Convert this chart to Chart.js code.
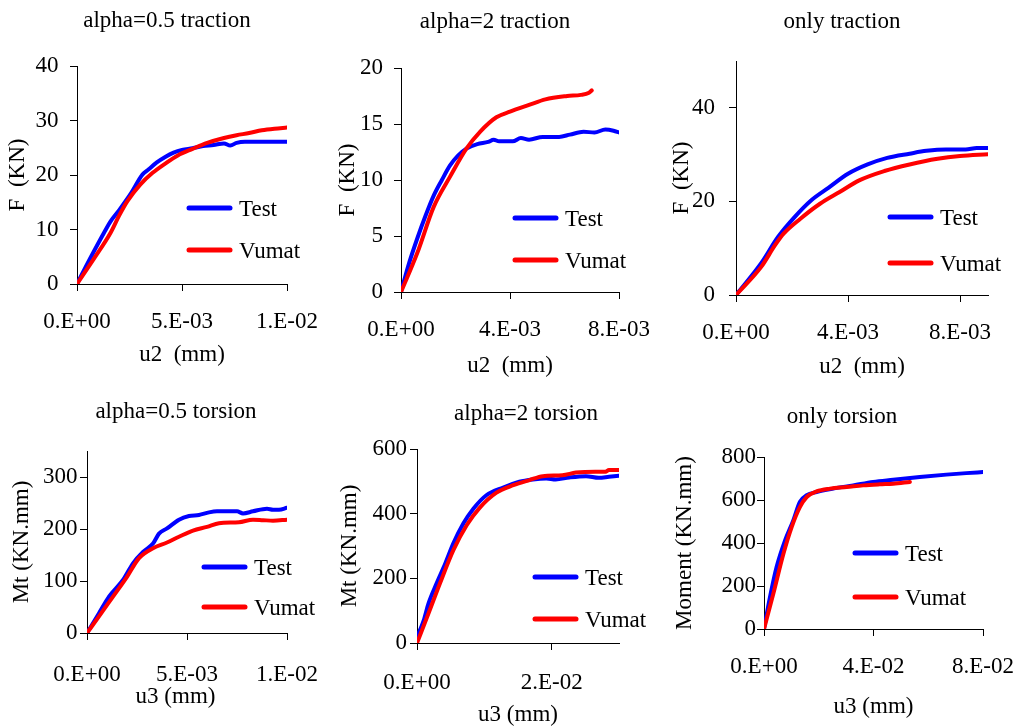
<!DOCTYPE html>
<html>
<head>
<meta charset="utf-8">
<script src="https://cdn.jsdelivr.net/npm/chart.js@4.4.1/dist/chart.umd.min.js"></script>
<style>
  html, body { margin: 0; padding: 0; background: #ffffff; }
  #page { position: relative; width: 1019px; height: 727px; overflow: hidden; background: #ffffff; }
  #page canvas { position: absolute; }
</style>
</head>
<body>
<div id="page"></div>
<script>
// ---- data: displacement / load curves (Test vs Vumat) ----

// alpha = 0.5, traction
const trac05TestU  = [0, 0.0006, 0.0013, 0.0016, 0.002, 0.0026, 0.0031, 0.0034, 0.0038, 0.0042, 0.0046, 0.005, 0.0055, 0.006, 0.0065, 0.007, 0.0073, 0.0076, 0.008, 0.009, 0.01];
const trac05TestF  = [0, 4.5, 9.5, 11.5, 13.5, 16.8, 20, 21, 22.3, 23.3, 24.1, 24.6, 24.9, 25.3, 25.5, 25.8, 25.4, 25.9, 26.1, 26.1, 26.1];
const trac05VumatU = [0, 0.0008, 0.0016, 0.002, 0.0024, 0.003, 0.0036, 0.0042, 0.0048, 0.0055, 0.0062, 0.007, 0.0076, 0.0082, 0.0088, 0.0094, 0.01];
const trac05VumatF = [0, 4.6, 9.4, 12.5, 15.2, 18.2, 20.4, 22.1, 23.6, 24.8, 25.9, 26.8, 27.3, 27.7, 28.2, 28.5, 28.7];

// alpha = 2, traction
const trac2TestU  = [0, 0.0003, 0.0006, 0.0009, 0.0012, 0.0015, 0.0018, 0.0021, 0.0024, 0.0028, 0.0032, 0.0034, 0.0036, 0.0041, 0.0044, 0.0047, 0.0052, 0.0058, 0.0062, 0.0067, 0.0071, 0.0075, 0.0078, 0.008];
const trac2TestF  = [0, 2.6, 4.8, 6.8, 8.6, 10.0, 11.3, 12.2, 12.8, 13.2, 13.4, 13.6, 13.45, 13.45, 13.75, 13.6, 13.85, 13.85, 14.05, 14.3, 14.25, 14.5, 14.4, 14.25];
const trac2VumatU = [0, 0.0006, 0.0012, 0.0018, 0.0024, 0.0029, 0.0035, 0.004, 0.0047, 0.0053, 0.0061, 0.0066, 0.0069, 0.007];
const trac2VumatF = [0, 3.5, 7.6, 10.3, 12.8, 14.3, 15.6, 16.1, 16.7, 17.2, 17.5, 17.6, 17.8, 18.0];

// pure traction
const tracTestU  = [0, 0.0009, 0.0015, 0.0021, 0.0027, 0.0033, 0.004, 0.0047, 0.0054, 0.0062, 0.0068, 0.0075, 0.0082, 0.0086, 0.009];
const tracTestF  = [0, 6.8, 12.4, 16.7, 20.3, 22.9, 25.9, 27.9, 29.3, 30.2, 30.8, 31.1, 31.1, 31.4, 31.4];
const tracVumatU = [0, 0.0009, 0.0014, 0.0017, 0.0023, 0.003, 0.0037, 0.0044, 0.0053, 0.0062, 0.0072, 0.008, 0.009];
const tracVumatF = [0, 6.0, 10.7, 13.1, 16.3, 19.5, 22.0, 24.5, 26.5, 27.9, 29.1, 29.7, 30.1];

// alpha = 0.5, torsion
const tors05TestU  = [0, 0.0006, 0.0011, 0.0018, 0.0023, 0.0028, 0.0033, 0.0036, 0.004, 0.0046, 0.0051, 0.0056, 0.0061, 0.0065, 0.0075, 0.0078, 0.0083, 0.009, 0.0093, 0.0096, 0.01];
const tors05TestM  = [0, 38, 70, 102, 134, 156, 172, 191, 201, 218, 225, 227, 232, 234, 234, 230, 234, 239, 237, 237, 241];
const tors05VumatU = [0, 0.0006, 0.0013, 0.002, 0.0026, 0.0033, 0.004, 0.0046, 0.0053, 0.006, 0.0066, 0.0076, 0.0083, 0.0088, 0.0093, 0.01];
const tors05VumatM = [0, 32, 70, 108, 144, 163, 174, 185, 197, 204, 211, 213, 218, 217, 216, 218];

// alpha = 2, torsion
const tors2TestU  = [0, 0.001, 0.0017, 0.0029, 0.0042, 0.0054, 0.0069, 0.0084, 0.0103, 0.0128, 0.0152, 0.0172, 0.0192, 0.0206, 0.0226, 0.0251, 0.027, 0.0285, 0.03];
const tors2TestM  = [18, 70, 122, 184, 246, 308, 370, 416, 457, 481, 499, 506, 509, 506, 512, 516, 511, 514, 517];
const tors2VumatU = [0, 0.0017, 0.0034, 0.0054, 0.0074, 0.0093, 0.0118, 0.0143, 0.0167, 0.0187, 0.0216, 0.0236, 0.0265, 0.028, 0.0285, 0.03];
const tors2VumatM = [0, 91, 184, 287, 365, 418, 465, 488, 504, 516, 519, 527, 530, 530, 535, 535];

// pure torsion
const torsTestU  = [0, 0.0022, 0.0046, 0.0077, 0.0107, 0.0131, 0.0156, 0.0192, 0.0253, 0.0326, 0.0399, 0.0472, 0.0569, 0.0666, 0.0739, 0.08];
const torsTestM  = [0, 149, 288, 412, 505, 591, 622, 637, 653, 668, 684, 694, 707, 718, 725, 730];
const torsVumatU = [0, 0.0034, 0.0071, 0.0101, 0.0131, 0.0156, 0.0192, 0.0241, 0.0302, 0.0362, 0.0423, 0.0472, 0.0533];
const torsVumatM = [0, 164, 350, 474, 567, 614, 640, 653, 660, 668, 673, 676, 684];

// ---- axis ticks ----
const xTicksTrac05 = [0, 0.005, 0.01];
const xTicksTrac2  = [0, 0.004, 0.008];
const xTicksTrac   = [0, 0.004, 0.008];
const xTicksTors05 = [0, 0.005, 0.01];
const xTicksTors2  = [0, 0.02];
const xTicksTors   = [0, 0.04, 0.08];
const yTicksTrac05 = [0, 10, 20, 30, 40];
const yTicksTrac2  = [0, 5, 10, 15, 20];
const yTicksTrac   = [0, 20, 40];
const yTicksTors05 = [0, 100, 200, 300];
const yTicksTors2  = [0, 200, 400, 600];
const yTicksTors   = [0, 200, 400, 600, 800];

const seriesNames = ['Test', 'Vumat'];
const seriesColors = ['#0000ff', '#ff0000'];

// ---- drawing helpers ----
const FONT = '"Liberation Serif", "Times New Roman", Times, serif';
const FS = 23;

function pts(xs, ys) { return xs.map((x, i) => ({ x: x, y: ys[i] })); }

// Excel-like "0.E+00" style labels
function sciLabel(v) {
  if (Math.abs(v) < 1e-12) return '0.E+00';
  const e = Math.floor(Math.log10(Math.abs(v)) + 1e-9);
  const m = Math.round(v / Math.pow(10, e));
  return m + '.E' + (e < 0 ? '-' : '+') + String(Math.abs(e)).padStart(2, '0');
}

// titles above each panel and the in-plot legend
const panelDecor = {
  id: 'panelDecor',
  afterDraw(chart, args, o) {
    const ctx = chart.ctx;
    ctx.save();
    ctx.fillStyle = '#000000';
    ctx.font = FS + 'px ' + FONT;
    ctx.textBaseline = 'alphabetic';
    ctx.textAlign = 'center';
    ctx.fillText(o.title, o.titleX, o.titleBase);
    ctx.textAlign = 'left';
    chart.data.datasets.forEach((ds, i) => {
      const y = o.legY + i * o.legGap;
      ctx.strokeStyle = ds.borderColor;
      ctx.lineWidth = 5;
      ctx.lineCap = 'round';
      ctx.beginPath();
      ctx.moveTo(o.legX, y);
      ctx.lineTo(o.legX + 41, y);
      ctx.stroke();
      ctx.fillText(ds.label, o.legX + 50, y + 8);
    });
    ctx.restore();
  }
};

const page = document.getElementById('page');

function makePanel(cfg) {
  const [L, T, W, H] = cfg.box;
  const canvas = document.createElement('canvas');
  canvas.width = W; canvas.height = H;
  canvas.style.left = L + 'px'; canvas.style.top = T + 'px';
  canvas.style.width = W + 'px'; canvas.style.height = H + 'px';
  page.appendChild(canvas);

  const a = cfg.area;
  const half = FS / 2;          // axis titles use lineHeight 1
  const tickLen = 7;
  const padL = cfg.yTitleX - half - L;
  const yW = a.l - L - padL;
  const padR = L + W - a.r;
  const padT = a.t - T;
  const xH = cfg.xTitleY - a.b + half;
  const padB = Math.max(0, T + H - a.b - xH);
  const xPad = cfg.xLabelY - a.b - tickLen - FS * 0.6;
  const yPad = a.l - tickLen - cfg.yLabelRight;

  const datasets = cfg.series.map((s, i) => ({
    label: seriesNames[i],
    data: pts(s[0], s[1]),
    showLine: true,
    borderColor: seriesColors[i],
    backgroundColor: seriesColors[i],
    borderWidth: 4,
    borderCapStyle: 'round',
    borderJoinStyle: 'round',
    pointRadius: 0,
    pointHoverRadius: 0,
    cubicInterpolationMode: 'monotone',
    order: seriesNames.length - i
  }));

  const axisCommon = {
    type: 'linear',
    min: 0,
    grid: { display: true, drawOnChartArea: false, drawTicks: true, tickLength: tickLen, color: '#000000', lineWidth: 1 },
    border: { display: true, color: '#000000', width: 1 }
  };

  new Chart(canvas, {
    type: 'scatter',
    data: { datasets: datasets },
    plugins: [panelDecor],
    options: {
      responsive: false,
      animation: false,
      devicePixelRatio: 1,
      events: [],
      layout: { autoPadding: false, padding: { left: padL, right: padR, top: padT, bottom: padB } },
      plugins: {
        legend: { display: false },
        tooltip: { enabled: false },
        title: { display: false },
        panelDecor: {
          title: cfg.title,
          titleX: cfg.titleX - L,
          titleBase: cfg.titleBase - T,
          legX: cfg.legX - L,
          legY: cfg.legY - T,
          legGap: cfg.legGap
        }
      },
      scales: {
        x: Object.assign({}, axisCommon, {
          max: cfg.xMax,
          afterBuildTicks: s => { s.ticks = cfg.xTicks.map(v => ({ value: v })); },
          afterFit: s => { s.height = xH; s.paddingLeft = 0; s.paddingRight = 0; },
          ticks: {
            callback: v => sciLabel(v),
            autoSkip: false, maxRotation: 0, minRotation: 0,
            padding: xPad, color: '#000000',
            font: { family: FONT, size: FS, lineHeight: 1.2 }
          },
          title: { display: true, text: cfg.xTitle, color: '#000000', padding: 0,
                   font: { family: FONT, size: FS, lineHeight: 1 } }
        }),
        y: Object.assign({}, axisCommon, {
          max: cfg.yMax,
          afterBuildTicks: s => { s.ticks = cfg.yTicks.map(v => ({ value: v })); },
          afterFit: s => { s.width = yW; s.paddingTop = 0; s.paddingBottom = 0; },
          ticks: {
            callback: v => String(v),
            autoSkip: false,
            padding: yPad, color: '#000000',
            font: { family: FONT, size: FS, lineHeight: 1.2 }
          },
          title: { display: true, text: cfg.yTitle, color: '#000000', padding: 0,
                   font: { family: FONT, size: FS, lineHeight: 1 } }
        })
      }
    }
  });
}

// ---- panel layout ----
const panels = [
  { box: [0, 0, 330, 385], area: { l: 77, r: 287, t: 66, b: 284 },
    xMax: 0.01, yMax: 40, xTicks: xTicksTrac05, yTicks: yTicksTrac05,
    series: [[trac05TestU, trac05TestF], [trac05VumatU, trac05VumatF]],
    title: 'alpha=0.5 traction', titleX: 167, titleBase: 27,
    xTitle: 'u2  (mm)', yTitle: 'F  (KN)',
    yTitleX: 18, xTitleY: 355, xLabelY: 322, yLabelRight: 58.5,
    legX: 189, legY: 208, legGap: 42 },
  { box: [330, 0, 330, 385], area: { l: 401, r: 619, t: 68, b: 292 },
    xMax: 0.008, yMax: 20, xTicks: xTicksTrac2, yTicks: yTicksTrac2,
    series: [[trac2TestU, trac2TestF], [trac2VumatU, trac2VumatF]],
    title: 'alpha=2 traction', titleX: 495, titleBase: 28,
    xTitle: 'u2  (mm)', yTitle: 'F  (KN)',
    yTitleX: 348, xTitleY: 366, xLabelY: 330, yLabelRight: 383,
    legX: 515, legY: 218, legGap: 42 },
  { box: [660, 0, 359, 385], area: { l: 736, r: 988, t: 61, b: 295 },
    xMax: 0.009, yMax: 50, xTicks: xTicksTrac, yTicks: yTicksTrac,
    series: [[tracTestU, tracTestF], [tracVumatU, tracVumatF]],
    title: 'only traction', titleX: 842, titleBase: 28,
    xTitle: 'u2  (mm)', yTitle: 'F  (KN)',
    yTitleX: 682, xTitleY: 367, xLabelY: 333, yLabelRight: 715,
    legX: 890, legY: 217, legGap: 46 },
  { box: [0, 385, 330, 342], area: { l: 87, r: 287, t: 451, b: 633 },
    xMax: 0.01, yMax: 350, xTicks: xTicksTors05, yTicks: yTicksTors05,
    series: [[tors05TestU, tors05TestM], [tors05VumatU, tors05VumatM]],
    title: 'alpha=0.5 torsion', titleX: 176, titleBase: 418,
    xTitle: 'u3 (mm)    ', yTitle: 'Mt (KN.mm)',
    yTitleX: 22, xTitleY: 697, xLabelY: 675, yLabelRight: 77.5,
    legX: 204, legY: 567, legGap: 40 },
  { box: [330, 385, 330, 342], area: { l: 417, r: 619, t: 449, b: 643 },
    xMax: 0.03, yMax: 600, xTicks: xTicksTors2, yTicks: yTicksTors2,
    series: [[tors2TestU, tors2TestM], [tors2VumatU, tors2VumatM]],
    title: 'alpha=2 torsion', titleX: 526, titleBase: 420,
    xTitle: 'u3 (mm)', yTitle: 'Mt (KN.mm)',
    yTitleX: 350, xTitleY: 715, xLabelY: 683, yLabelRight: 407,
    legX: 535, legY: 577, legGap: 42 },
  { box: [660, 385, 359, 342], area: { l: 764, r: 983, t: 457, b: 629 },
    xMax: 0.08, yMax: 800, xTicks: xTicksTors, yTicks: yTicksTors,
    series: [[torsTestU, torsTestM], [torsVumatU, torsVumatM]],
    title: 'only torsion', titleX: 842, titleBase: 423,
    xTitle: 'u3 (mm)', yTitle: 'Moment (KN.mm)',
    yTitleX: 685, xTitleY: 707, xLabelY: 667, yLabelRight: 756,
    legX: 855, legY: 553, legGap: 44 }
];

panels.forEach(makePanel);
</script>
</body>
</html>
